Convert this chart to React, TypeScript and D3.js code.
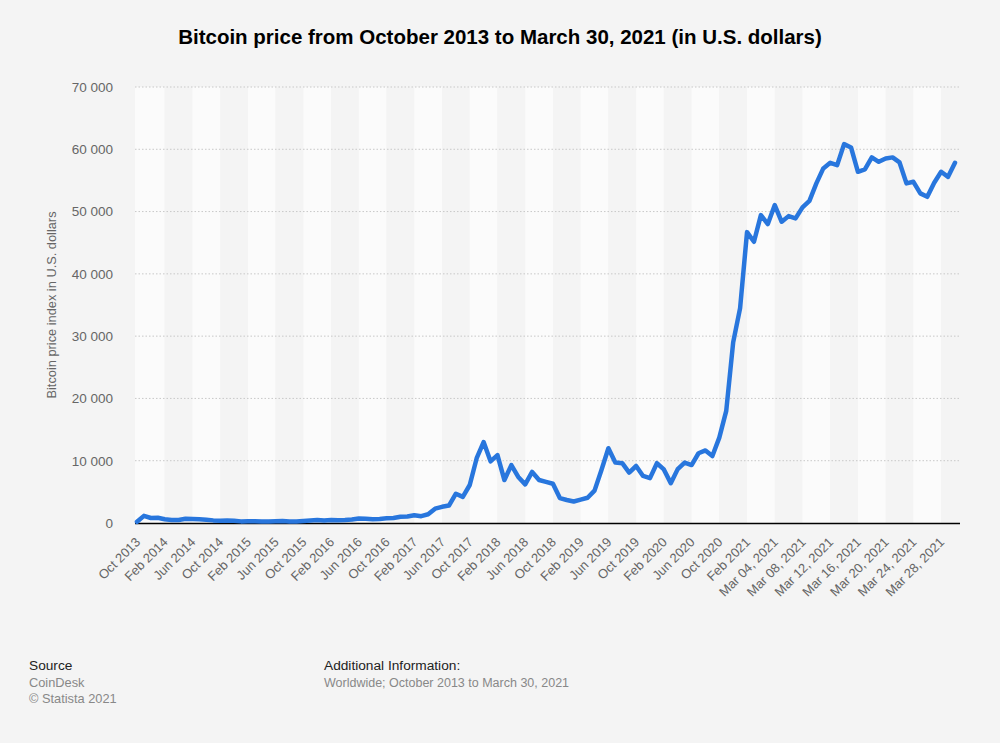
import React from "react";
import * as d3 from "d3";

const monthLabels: string[] = (() => {
  const m = ["Jan","Feb","Mar","Apr","May","Jun","Jul","Aug","Sep","Oct","Nov","Dec"];
  const out: string[] = [];
  let y = 2013, mo = 9;
  while (y < 2021 || (y === 2021 && mo <= 1)) {
    out.push(`${m[mo]} ${y}`);
    mo++;
    if (mo > 11) { mo = 0; y++; }
  }
  return out;
})();

const dayLabels: string[] = Array.from({ length: 30 }, (_, i) => `Mar ${String(i + 1).padStart(2, "0")}, 2021`);

const categories: string[] = [...monthLabels, ...dayLabels];

const monthlyValues: number[] = [
  200, 1150, 800, 850, 600, 500, 480, 680, 660, 600, 520, 420,
  380, 400, 360, 260, 280, 270, 250, 250, 280, 310, 260, 260,
  340, 400, 480, 400, 480, 440, 480, 560, 720, 680, 620, 650,
  750, 800, 1000, 1050, 1250, 1100, 1400, 2300, 2600, 2800, 4700, 4200,
  6100, 10400, 13000, 9900, 10900, 6900, 9300, 7400, 6200, 8200, 6900, 6600,
  6300, 4000, 3700, 3450, 3750, 4050, 5200, 8500, 12000, 9700, 9600, 8100,
  9150, 7550, 7200, 9600, 8600, 6400, 8650, 9700, 9300, 11200, 11650, 10750,
  13700, 18000, 29000, 34500, 46700,
];

const dailyValues: number[] = [
  45150, 49430, 47990, 51040, 48360, 49270, 48900, 50670, 51730, 54520,
  56930, 57830, 57460, 60830, 60300, 56390, 56770, 58700, 57990, 58530,
  58700, 57890, 54520, 54780, 52920, 52370, 54620, 56390, 55580, 57830,
];

const values: number[] = [...monthlyValues, ...dailyValues];

const yTicks: number[] = [0, 10000, 20000, 30000, 40000, 50000, 60000, 70000];

const W = 1000, H = 743;
const plotLeft = 135, plotRight = 960, plotTop = 87, plotBottom = 523;

export default function App() {
  const n = categories.length;
  const x = d3.scaleLinear().domain([0, n - 1]).range([137, 955]);
  const y = d3.scaleLinear().domain([0, 70000]).range([plotBottom, plotTop]);
  const fmt = (v: number) => d3.format(",")(v).replace(/,/g, " ");
  const line = d3.line<number>().x((_, i) => x(i)).y((d) => y(d));
  const step = x(1) - x(0);
  const stripes = d3.range(0, n, 4);
  const font = "'Liberation Sans', Arial, sans-serif";

  return (
    <svg width={W} height={H} style={{ position: "absolute", left: 0, top: 0, background: "#f4f4f4" }} fontFamily={font}>
      <rect x={0} y={0} width={W} height={H} fill="#f4f4f4" />
      <text x={500} y={44} textAnchor="middle" fontSize={20.5} fontWeight="bold" fill="#000">
        Bitcoin price from October 2013 to March 30, 2021 (in U.S. dollars)
      </text>
      {stripes.map((s, k) => {
        const x0 = k === 0 ? plotLeft : x(s);
        const x1 = Math.min(plotRight, x(s) + 4 * step);
        return (
          <rect key={s} x={x0} y={plotTop} width={x1 - x0} height={plotBottom - plotTop}
            fill={k % 2 === 0 ? "#fbfbfb" : "#f4f4f4"} />
        );
      })}
      {yTicks.map((t) => (
        <g key={t}>
          {t > 0 && (
            <line x1={plotLeft} x2={plotRight} y1={y(t)} y2={y(t)} stroke="#c8c8c8" strokeWidth={1} strokeDasharray="1.5,2" />
          )}
          <text x={113} y={y(t) + 4.8} textAnchor="end" fontSize={13.5} fill="#666">{fmt(t)}</text>
        </g>
      ))}
      <text transform={`translate(56,${(plotTop + plotBottom) / 2}) rotate(-90)`} textAnchor="middle" fontSize={12.8} fill="#666">
        Bitcoin price index in U.S. dollars
      </text>
      <line x1={plotLeft} x2={plotRight} y1={plotBottom + 0.5} y2={plotBottom + 0.5} stroke="#000" strokeWidth={1.3} />
      {categories.map((c, i) => i % 4 === 0 && (
        <text key={c} transform={`translate(${x(i) + 4},${plotBottom + 20}) rotate(-45)`} textAnchor="end" fontSize={13} fill="#666">
          {c}
        </text>
      ))}
      <path d={line(values) || ""} fill="none" stroke="#2876dd" strokeWidth={4.5} strokeLinejoin="round" strokeLinecap="round" />
      <text x={29} y={670} fontSize={13.7} fill="#222">Source</text>
      <text x={29} y={687} fontSize={12.8} fill="#888">CoinDesk</text>
      <text x={29} y={703} fontSize={12.8} fill="#888">© Statista 2021</text>
      <text x={324} y={670} fontSize={13.7} fill="#222">Additional Information:</text>
      <text x={324} y={687} fontSize={12.5} fill="#888">Worldwide; October 2013 to March 30, 2021</text>
    </svg>
  );
}
